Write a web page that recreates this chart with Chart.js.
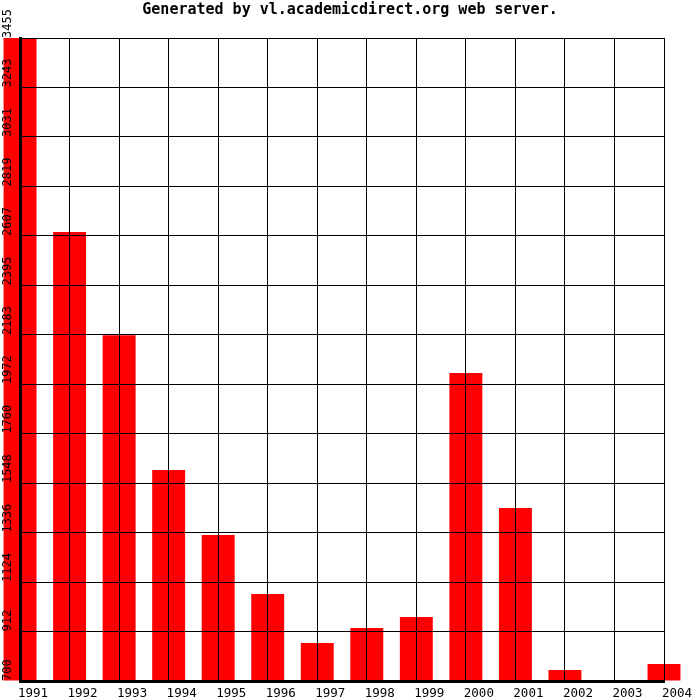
<!DOCTYPE html>
<html>
<head>
<meta charset="utf-8">
<script src="https://cdn.jsdelivr.net/npm/chart.js@4/dist/chart.umd.min.js"></script>
<style>
  html, body { margin: 0; padding: 0; background: #ffffff; }
  canvas { display: block; }
</style>
</head>
<body>
<canvas id="c" width="700" height="700"></canvas>
<script>
const titleText = 'Generated by vl.academicdirect.org web server.';
const years = ['1991','1992','1993','1994','1995','1996','1997','1998','1999','2000','2001','2002','2003','2004'];
const counts = [3455, 2624, 2181, 1604, 1326, 1073, 863, 927, 974, 2020, 1441, 747, 700, 773];
const yTickLabels = ['700','912','1124','1336','1548','1760','1972','2183','2395','2607','2819','3031','3243','3455'];

const yVals = yTickLabels.map(Number);

new Chart(document.getElementById('c'), {
  type: 'bar',
  data: {
    labels: years,
    datasets: [{
      data: counts,
      base: yVals[0],
      backgroundColor: '#ff0000',
      borderWidth: 0,
      categoryPercentage: 1,
      barPercentage: 0.665,
      clip: false
    }]
  },
  options: {
    responsive: false,
    devicePixelRatio: 1,
    animation: false,
    layout: { padding: 0 },
    plugins: {
      legend: { display: false },
      tooltip: { enabled: false },
      title: {
        display: true,
        text: titleText,
        color: '#000000',
        font: { family: '"DejaVu Sans Mono", monospace', size: 15, weight: 'bold', lineHeight: 1.2 },
        padding: { top: 1, bottom: 19 }
      }
    },
    scales: {
      x: {
        type: 'category',
        offset: false,
        grid: { offset: false, color: '#000000', lineWidth: 1, drawTicks: false, z: 1 },
        border: { display: true, color: '#000000', width: 3, z: 2 },
        ticks: {
          z: 2,
          color: '#000000',
          font: { family: '"DejaVu Sans Mono", monospace', size: 12.5 },
          maxRotation: 0, minRotation: 0,
          autoSkip: false,
          padding: 5,
          labelOffset: 13
        },
        afterFit(s) { s.height = 19; }
      },
      y: {
        type: 'linear',
        beginAtZero: false,
        min: yVals[0],
        max: yVals[yVals.length - 1],
        grid: { color: '#000000', lineWidth: 1, drawTicks: false, z: 1 },
        border: { display: true, color: '#000000', width: 3, z: 2 },
        afterBuildTicks(s) { s.ticks = yVals.map(v => ({ value: v })); },
        ticks: {
          z: 2,
          color: '#000000',
          font: { family: '"DejaVu Sans Mono", monospace', size: 12 },
          minRotation: 90, maxRotation: 90,
          autoSkip: false,
          mirror: true,
          padding: -12,
          callback: (v, i) => yTickLabels[i]
        },
        afterFit(s) { s.width = 19; }
      },
      yRight: {
        type: 'linear',
        position: 'right',
        display: true,
        grid: { display: false, drawTicks: false },
        border: { display: false },
        ticks: { display: false },
        afterFit(s) { s.width = 36; }
      }
    }
  }
});
</script>
</body>
</html>
